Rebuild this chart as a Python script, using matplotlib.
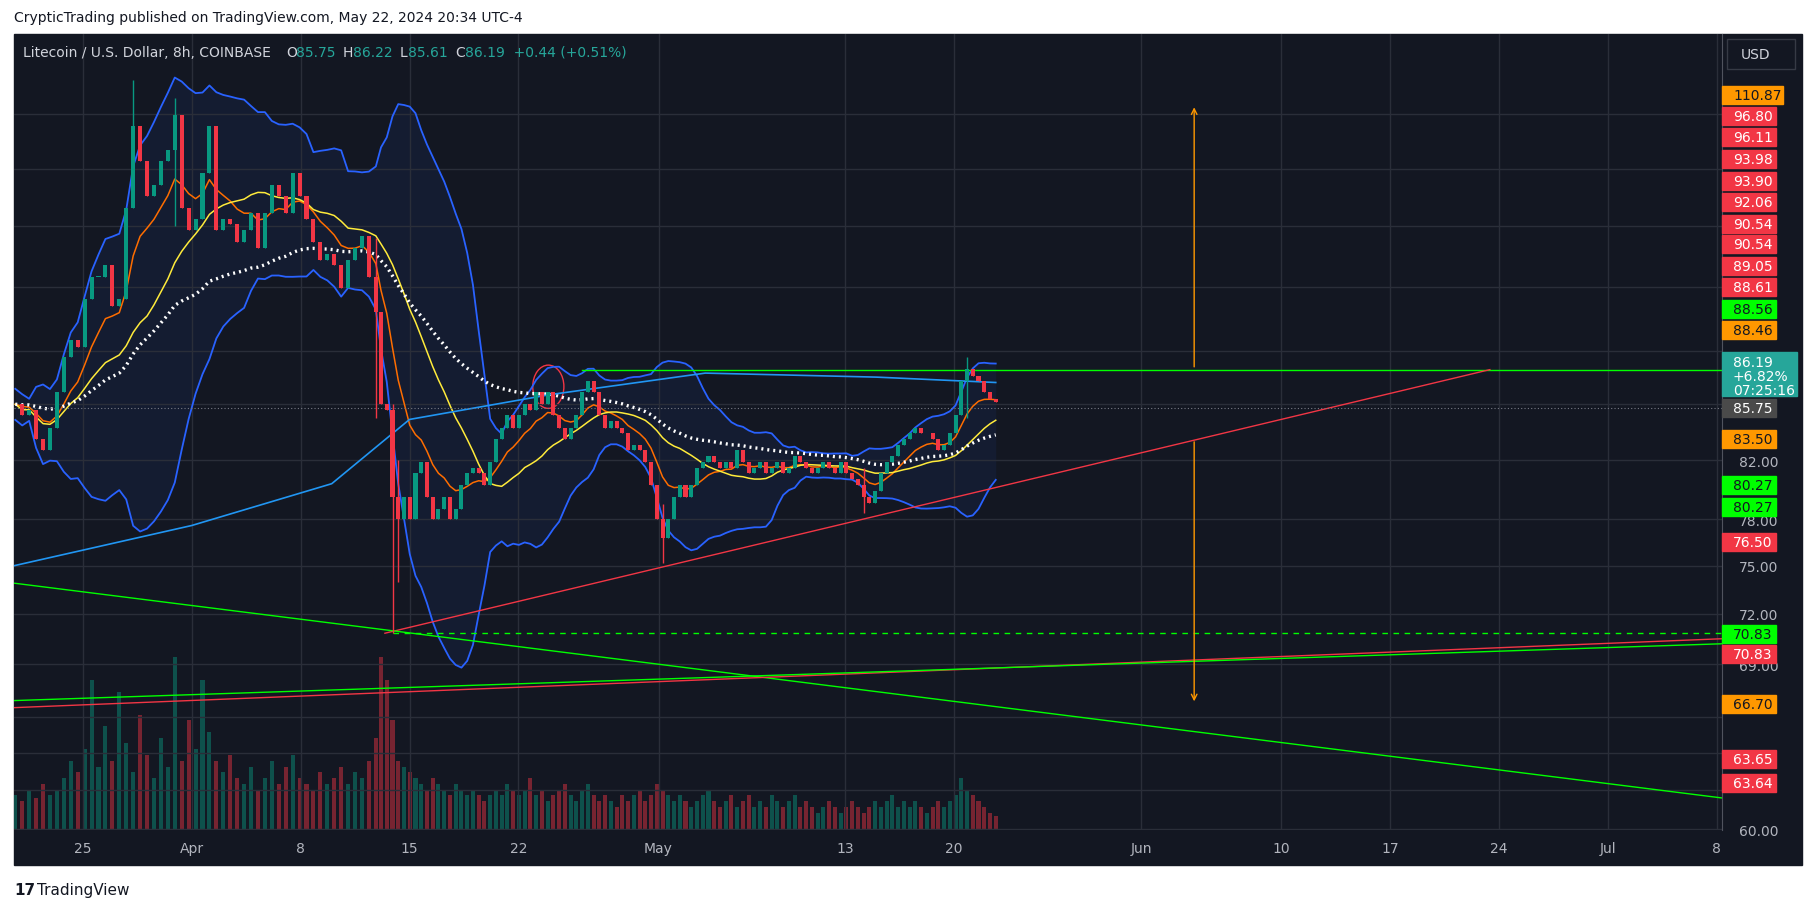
"""Litecoin / USD 8h chart, TradingView style."""

import matplotlib

matplotlib.use("Agg")
import matplotlib.dates as mdates
import matplotlib.pyplot as plt
import numpy as np
import pandas as pd
from matplotlib.patches import Ellipse, Rectangle

W, H = 1815, 912

closes = [86.0, 85.2, 85.6, 83.5, 82.7, 84.3, 86.9, 89.5, 90.8, 90.3, 94.0, 95.8, 95.8, 96.8, 93.5,
          94.0, 101.6, 108.9, 105.7, 102.6, 103.6, 105.7, 106.7, 109.9, 101.6, 99.7, 100.6, 104.6, 108.9,
          99.7, 100.6, 100.2, 98.7, 99.7, 101.1, 98.2, 101.1, 103.6, 102.6, 101.1, 104.6, 102.6, 100.6,
          98.7, 97.2, 97.7, 96.8, 94.9, 97.2, 98.2, 99.2, 95.8, 93.0, 86.0, 85.6, 79.5, 78.0, 79.5, 78.0,
          81.1, 81.9, 79.5, 78.0, 78.7, 79.5, 78.0, 78.7, 80.3, 81.1, 81.5, 81.1, 80.3, 81.9, 83.5, 84.3,
          85.2, 84.3, 85.2, 86.0, 85.6, 86.9, 86.0, 86.9, 85.2, 84.3, 83.5, 84.3, 85.2, 86.9, 87.7, 86.9,
          85.2, 84.3, 84.8, 84.3, 83.9, 82.7, 83.1, 82.7, 81.9, 80.3, 78.0, 76.8, 78.0, 79.5, 80.3, 79.5,
          80.3, 81.5, 81.9, 82.3, 81.9, 81.5, 81.9, 81.5, 82.7, 81.9, 81.1, 81.5, 81.9, 81.1, 81.5, 81.9,
          81.1, 81.5, 82.3, 81.9, 81.5, 81.1, 81.5, 81.9, 81.5, 81.1, 81.9, 81.1, 80.7, 80.3, 79.5, 79.1,
          79.9, 81.1, 81.9, 82.3, 83.1, 83.5, 83.9, 84.3, 83.9, 83.9, 83.5, 82.7, 83.1, 83.9, 85.2, 87.7,
          88.6, 88.1, 87.7, 86.9, 86.4, 86.19]

volumes = [30, 25, 35, 28, 40, 30, 35, 45, 60, 50, 70, 130, 55, 90, 60, 120, 75, 50, 100, 65, 45, 80,
           55, 150, 60, 95, 70, 130, 85, 60, 50, 65, 45, 40, 55, 35, 45, 60, 40, 55, 65, 45, 40, 35, 50,
           40, 45, 55, 40, 50, 45, 60, 80, 150, 130, 95, 60, 55, 50, 45, 40, 35, 45, 40, 35, 30, 40, 35,
           30, 35, 30, 25, 30, 35, 30, 40, 35, 30, 35, 45, 30, 35, 25, 30, 35, 40, 30, 25, 35, 40, 30, 25,
           30, 25, 20, 30, 25, 30, 35, 25, 30, 40, 35, 30, 25, 30, 25, 20, 25, 30, 35, 25, 20, 25, 30, 20,
           25, 30, 20, 25, 20, 30, 25, 20, 25, 30, 20, 25, 20, 15, 20, 25, 20, 15, 20, 25, 20, 15, 20, 25,
           20, 25, 30, 20, 25, 20, 25, 20, 15, 20, 25, 20, 25, 30, 45, 35, 30, 25, 20, 15, 12]

# candle index of the Apr 13 dump, used to split the time axis
DUMP = 53

# notable wicks: (candle index, high, low)
wicks = [(17, 113.2, 104.0), (23, 111.5, 100.0), (52, 99.0, 85.0), (55, 86.0, 70.83), (56, 82.0, 74.0),
         (102, 79.0, 75.2), (137, 81.5, 78.4), (155, 89.5, 85.0)]

blue_ma_dates = ["2024-03-20 14:00", "2024-04-01", "2024-04-10", "2024-04-15", "2024-04-24", "2024-05-04",
                 "2024-05-15", "2024-05-22 16:00"]
blue_ma_vals = [75.0, 77.6, 80.4, 84.9, 86.7, 88.3, 88.0, 87.6]

price_ticks = [60, 62, 64, 66, 69, 72, 75, 78, 82, 86, 90, 95, 100, 105, 110]
shown_ticks = [60, 69, 72, 75, 78, 82]

date_ticks = ["2024-03-25", "2024-04-01", "2024-04-08", "2024-04-15", "2024-04-22", "2024-05-01",
              "2024-05-13", "2024-05-20", "2024-06-01", "2024-06-10", "2024-06-17", "2024-06-24",
              "2024-07-01", "2024-07-08"]
date_labels = ["25", "Apr", "8", "15", "22", "May", "13", "20", "Jun", "10", "17", "24", "Jul", "8"]

# right-hand price labels: text, box colour, text colour, y pixel (centre)
side_labels = [("110.87", "#ff9800", "#131722", 96), ("96.80", "#f23645", "white", 117),
               ("96.11", "#f23645", "white", 138), ("93.98", "#f23645", "white", 160),
               ("93.90", "#f23645", "white", 182), ("92.06", "#f23645", "white", 203),
               ("90.54", "#f23645", "white", 225), ("90.54", "#f23645", "white", 245),
               ("89.05", "#f23645", "white", 267), ("88.61", "#f23645", "white", 288),
               ("88.56", "#00ff00", "#131722", 310), ("88.46", "#ff9800", "#131722", 331),
               ("85.75", "#4a4a4a", "white", 409), ("83.50", "#ff9800", "#131722", 440),
               ("80.27", "#00ff00", "#131722", 486), ("80.27", "#00ff00", "#131722", 508),
               ("76.50", "#f23645", "white", 543), ("70.83", "#00ff00", "#131722", 635),
               ("70.83", "#f23645", "white", 655), ("66.70", "#ff9800", "#131722", 705),
               ("63.65", "#f23645", "white", 760), ("63.64", "#f23645", "white", 784)]

BG = "#131722"
GRID = "#2a2e39"
UP, DOWN = "#089981", "#f23645"
TXT = "#b2b5be"


def dn(s):
    return mdates.datestr2num(s)


def fx(px):
    return px / W


def fy(py):
    return 1 - py / H


fig = plt.figure(figsize=(W / 100, H / 100), dpi=100, facecolor="white")
fig.patches.append(Rectangle((fx(14), fy(866)), fx(1802) - fx(14), fy(35) - fy(866),
                             transform=fig.transFigure, color=BG, zorder=-2))
ax = fig.add_axes([fx(14), fy(831), fx(1722) - fx(14), fy(35) - fy(831)])
ax.set_facecolor(BG)

c = np.array(closes)
o = np.r_[c[0], c[:-1]]
t = np.r_[np.linspace(dn("2024-03-20 16:00"), dn("2024-04-12 20:00"), DUMP),
          np.linspace(dn("2024-04-13 04:00"), dn("2024-05-22 16:00"), len(c) - DUMP)]
up = c >= o

# volume
vax = ax.twinx()
vax.bar(t, volumes, width=0.26, color=np.where(up, UP, DOWN), alpha=0.45, zorder=1)
vax.set_ylim(0, 150 * 4.6)
vax.set_yticks([])
for s in vax.spines.values():
    s.set_visible(False)
ax.set_zorder(vax.get_zorder() + 1)
ax.patch.set_visible(False)
vax.patch.set_facecolor(BG)

# indicators
s = pd.Series(c)
mid = s.rolling(20, min_periods=1).mean()
std = s.rolling(20, min_periods=2).std().bfill()
ema = s.ewm(span=9, adjust=False).mean()
sma = s.rolling(20, min_periods=1).mean()
slow = s.ewm(span=45, adjust=False).mean()
ax.fill_between(t, mid - 2 * std, mid + 2 * std, color="#2962ff", alpha=0.07, lw=0)
ax.plot(t, mid + 2 * std, color="#2962ff", lw=1.3)
ax.plot(t, mid - 2 * std, color="#2962ff", lw=1.3)
ax.plot(t, ema, color="#ff6d00", lw=1.1)
ax.plot(t, sma, color="#ffeb3b", lw=1.1)
ax.plot(t, slow, color="white", lw=2.4, ls=(0, (0.6, 1.2)))
ax.plot([dn(d) for d in blue_ma_dates], blue_ma_vals, color="#2196f3", lw=1.2)

# candles
for i in range(len(c)):
    col = UP if up[i] else DOWN
    lo, hi = min(o[i], c[i]), max(o[i], c[i])
    ax.vlines(t[i], lo, hi, color=col, lw=0.8)
    ax.add_patch(Rectangle((t[i] - 0.13, lo), 0.26, max(hi - lo, 0.05), color=col, lw=0, zorder=3))
for i, hi, lo in wicks:
    ax.vlines(t[i], lo, hi, color=UP if up[i] else DOWN, lw=1, zorder=3)

# drawings
ax.plot([dn("2024-04-26 02:00"), dn("2024-07-08 08:00")], [88.56, 88.56], color="#00ff00", lw=1)
ax.plot([dn("2024-04-13 10:00"), dn("2024-06-23 10:00")], [70.83, 88.56], color="#f23645", lw=1)
ax.plot([dn("2024-04-13 22:00"), dn("2024-07-08 08:00")], [70.83, 70.83], color="#00ff00", lw=1, ls=(0, (4, 4)))
ax.plot([dn("2024-03-20 14:00"), dn("2024-07-08 08:00")], [73.9, 61.6], color="#00ff00", lw=1)
ax.plot([dn("2024-03-20 14:00"), dn("2024-07-08 08:00")], [66.5, 70.5], color="#f23645", lw=1)
ax.plot([dn("2024-03-20 14:00"), dn("2024-07-08 08:00")], [66.9, 70.2], color="#00ff00", lw=1)
ax.axhline(85.75, color="#787b86", lw=0.8, ls=(0, (1, 2)))
xa = dn("2024-06-04 10:00")
ax.annotate("", xy=(xa, 110.87), xytext=(xa, 88.56), arrowprops=dict(arrowstyle="->", color="#ff9800", lw=1))
ax.annotate("", xy=(xa, 66.70), xytext=(xa, 83.5), arrowprops=dict(arrowstyle="->", color="#ff9800", lw=1))
ax.add_patch(Ellipse((dn("2024-04-23 22:00"), 87.3), 2.0, 3.2, fill=False, ec="#f23645", lw=1))

# axes
ax.set_yscale("log")
ax.set_ylim(59.95, 117.7)
ax.set_xlim(dn("2024-03-20 14:00"), dn("2024-07-08 08:00"))
ax.set_yticks(price_ticks)
ax.set_yticks([], minor=True)
ax.yaxis.tick_right()
ax.set_yticklabels([f"{v:.2f}" if v in shown_ticks else "" for v in price_ticks])
ax.set_xticks([dn(d) for d in date_ticks])
ax.set_xticklabels(date_labels)
ax.tick_params(colors=TXT, labelsize=10, length=0, pad=8)
ax.tick_params(axis="y", pad=12)
ax.grid(color=GRID, lw=1)
for name, sp in ax.spines.items():
    sp.set_visible(name == "right")
ax.spines["right"].set_color("#50535e")

# header
fig.text(fx(14), fy(18), "CrypticTrading published on TradingView.com, May 22, 2024 20:34 UTC-4",
         color="#131722", fontsize=10, va="center")
hdr = [(23, "Litecoin / U.S. Dollar, 8h, COINBASE", "#d1d4dc"), (286, "O", "#d1d4dc"), (296, "85.75", UP),
       (343, "H", "#d1d4dc"), (353, "86.22", UP), (400, "L", "#d1d4dc"), (408, "85.61", UP),
       (455, "C", "#d1d4dc"), (465, "86.19  +0.44 (+0.51%)", UP)]
for x, txt, col in hdr:
    fig.text(fx(x), fy(53), txt, color=col if col != UP else "#26a69a", fontsize=10, va="center")

# price axis labels
fig.patches.append(Rectangle((fx(1727), fy(70)), fx(68), fy(40) - fy(70), transform=fig.transFigure,
                             fc=BG, ec="#363a45", lw=1, zorder=5))
fig.text(fx(1741), fy(55), "USD", color="#d1d4dc", fontsize=10, va="center", zorder=6)
for txt, bc, tc, y in side_labels:
    wbox = 61 if txt == "110.87" else 54
    fig.patches.append(Rectangle((fx(1722), fy(y + 9)), fx(wbox), fy(y - 9) - fy(y + 9),
                                 transform=fig.transFigure, color=bc, zorder=5))
    fig.text(fx(1733), fy(y), txt, color=tc, fontsize=10, va="center", zorder=6)
fig.patches.append(Rectangle((fx(1722), fy(397)), fx(75), fy(353) - fy(397), transform=fig.transFigure,
                             color="#26a69a", zorder=5))
for k, txt in enumerate(["86.19", "+6.82%", "07:25:16"]):
    fig.text(fx(1733), fy(363 + 14 * k), txt, color="white", fontsize=10, va="center", zorder=6)

fig.text(fx(14), fy(891), "17", color="#131722", fontsize=11, fontweight="bold", va="center")
fig.text(fx(37), fy(891), "TradingView", color="#131722", fontsize=11, va="center")

fig.savefig("out.png", dpi=100, facecolor="white")
